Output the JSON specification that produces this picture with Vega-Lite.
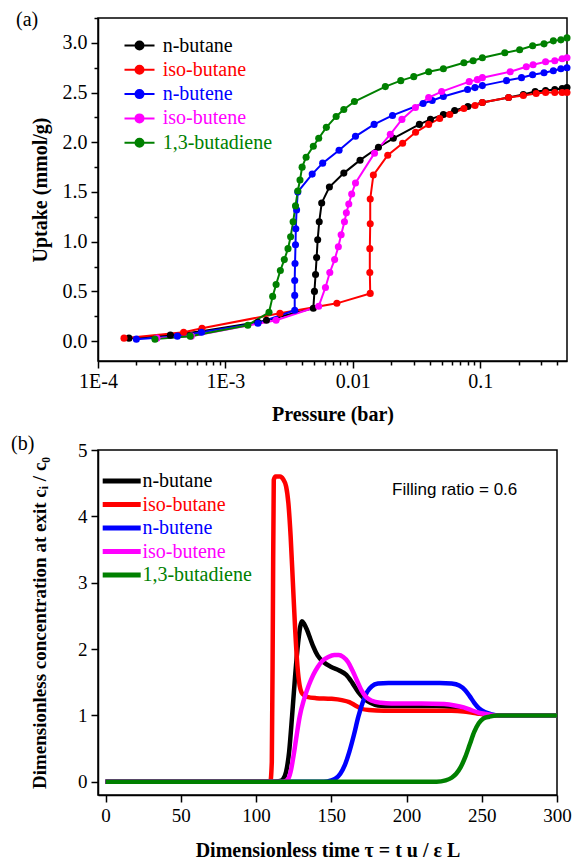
{
  "$schema": "https://vega.github.io/schema/vega-lite/v6.json",
  "padding": {"left": 10, "top": 7, "right": 0, "bottom": 0},
  "spacing": 8,
  "resolve": {"legend": {"color": "independent"}},
  "config": {
    "view": {"stroke": "black", "strokeWidth": 1.5},
    "font": "Liberation Serif",
    "axis": {"grid": false, "domainColor": "black", "domainWidth": 1.5, "tickColor": "black", "tickWidth": 1.5, "labelColor": "black", "titleColor": "black", "labelFont": "Liberation Serif", "titleFont": "Liberation Serif", "titleFontWeight": "bold", "labelOverlap": false, "labelFlush": false},
    "legend": {"labelFont": "Liberation Serif"}
  },
  "vconcat": [
    {
      "width": 469,
      "height": 343,
      "title": {"text": "(a)", "orient": "top", "anchor": "start", "frame": "group", "baseline": "middle", "offset": -32, "dx": -82, "font": "Liberation Serif", "fontSize": 20, "fontWeight": "normal", "color": "black"},
      "data": {"values": [
        {"s":"n-butane","P":0.000175,"q":0.03},{"s":"n-butane","P":0.00037,"q":0.06},{"s":"n-butane","P":0.00065,"q":0.10},{"s":"n-butane","P":0.0018,"q":0.19},{"s":"n-butane","P":0.0021,"q":0.21},{"s":"n-butane","P":0.0049,"q":0.33},{"s":"n-butane","P":0.005,"q":0.50},{"s":"n-butane","P":0.0051,"q":0.67},{"s":"n-butane","P":0.0052,"q":0.84},{"s":"n-butane","P":0.0053,"q":1.02},{"s":"n-butane","P":0.00545,"q":1.20},{"s":"n-butane","P":0.0057,"q":1.39},{"s":"n-butane","P":0.00655,"q":1.55},{"s":"n-butane","P":0.0085,"q":1.69},{"s":"n-butane","P":0.0114,"q":1.82},{"s":"n-butane","P":0.0159,"q":1.95},{"s":"n-butane","P":0.0208,"q":2.04},{"s":"n-butane","P":0.0333,"q":2.18},{"s":"n-butane","P":0.0407,"q":2.23},{"s":"n-butane","P":0.0514,"q":2.28},{"s":"n-butane","P":0.063,"q":2.32},{"s":"n-butane","P":0.08,"q":2.36},{"s":"n-butane","P":0.104,"q":2.40},{"s":"n-butane","P":0.167,"q":2.45},{"s":"n-butane","P":0.218,"q":2.48},{"s":"n-butane","P":0.27,"q":2.51},{"s":"n-butane","P":0.326,"q":2.52},{"s":"n-butane","P":0.385,"q":2.53},{"s":"n-butane","P":0.44,"q":2.54},{"s":"n-butane","P":0.48,"q":2.55},
        {"s":"iso-butane","P":0.00016,"q":0.03},{"s":"iso-butane","P":0.00047,"q":0.09},{"s":"iso-butane","P":0.000655,"q":0.13},{"s":"iso-butane","P":0.00268,"q":0.28},{"s":"iso-butane","P":0.0075,"q":0.38},{"s":"iso-butane","P":0.0137,"q":0.48},{"s":"iso-butane","P":0.0136,"q":0.69},{"s":"iso-butane","P":0.0136,"q":0.93},{"s":"iso-butane","P":0.0137,"q":1.18},{"s":"iso-butane","P":0.0137,"q":1.43},{"s":"iso-butane","P":0.0145,"q":1.67},{"s":"iso-butane","P":0.0188,"q":1.87},{"s":"iso-butane","P":0.0246,"q":1.99},{"s":"iso-butane","P":0.0311,"q":2.10},{"s":"iso-butane","P":0.0394,"q":2.18},{"s":"iso-butane","P":0.0481,"q":2.24},{"s":"iso-butane","P":0.0577,"q":2.28},{"s":"iso-butane","P":0.0745,"q":2.34},{"s":"iso-butane","P":0.0911,"q":2.37},{"s":"iso-butane","P":0.104,"q":2.40},{"s":"iso-butane","P":0.167,"q":2.45},{"s":"iso-butane","P":0.218,"q":2.47},{"s":"iso-butane","P":0.275,"q":2.49},{"s":"iso-butane","P":0.326,"q":2.50},{"s":"iso-butane","P":0.385,"q":2.50},{"s":"iso-butane","P":0.44,"q":2.50},{"s":"iso-butane","P":0.48,"q":2.50},
        {"s":"n-butene","P":0.0002,"q":0.02},{"s":"n-butene","P":0.00042,"q":0.05},{"s":"n-butene","P":0.00065,"q":0.09},{"s":"n-butene","P":0.0018,"q":0.18},{"s":"n-butene","P":0.0035,"q":0.31},{"s":"n-butene","P":0.0035,"q":0.46},{"s":"n-butene","P":0.0035,"q":0.61},{"s":"n-butene","P":0.00352,"q":0.78},{"s":"n-butene","P":0.00355,"q":0.97},{"s":"n-butene","P":0.00357,"q":1.13},{"s":"n-butene","P":0.00362,"q":1.32},{"s":"n-butene","P":0.0037,"q":1.50},{"s":"n-butene","P":0.0048,"q":1.68},{"s":"n-butene","P":0.0058,"q":1.79},{"s":"n-butene","P":0.0078,"q":1.92},{"s":"n-butene","P":0.0105,"q":2.06},{"s":"n-butene","P":0.0147,"q":2.18},{"s":"n-butene","P":0.0205,"q":2.27},{"s":"n-butene","P":0.0356,"q":2.39},{"s":"n-butene","P":0.042,"q":2.42},{"s":"n-butene","P":0.0514,"q":2.46},{"s":"n-butene","P":0.0796,"q":2.53},{"s":"n-butene","P":0.091,"q":2.55},{"s":"n-butene","P":0.104,"q":2.57},{"s":"n-butene","P":0.161,"q":2.62},{"s":"n-butene","P":0.211,"q":2.65},{"s":"n-butene","P":0.258,"q":2.68},{"s":"n-butene","P":0.317,"q":2.70},{"s":"n-butene","P":0.375,"q":2.72},{"s":"n-butene","P":0.43,"q":2.74},{"s":"n-butene","P":0.48,"q":2.75},
        {"s":"iso-butene","P":0.00029,"q":0.03},{"s":"iso-butene","P":0.00054,"q":0.05},{"s":"iso-butene","P":0.0025,"q":0.21},{"s":"iso-butene","P":0.0054,"q":0.35},{"s":"iso-butene","P":0.0061,"q":0.54},{"s":"iso-butene","P":0.0066,"q":0.69},{"s":"iso-butene","P":0.0072,"q":0.82},{"s":"iso-butene","P":0.0077,"q":0.95},{"s":"iso-butene","P":0.0081,"q":1.07},{"s":"iso-butene","P":0.0086,"q":1.20},{"s":"iso-butene","P":0.0089,"q":1.29},{"s":"iso-butene","P":0.0093,"q":1.38},{"s":"iso-butene","P":0.0098,"q":1.48},{"s":"iso-butene","P":0.0105,"q":1.59},{"s":"iso-butene","P":0.0148,"q":1.89},{"s":"iso-butene","P":0.0197,"q":2.08},{"s":"iso-butene","P":0.0243,"q":2.23},{"s":"iso-butene","P":0.031,"q":2.35},{"s":"iso-butene","P":0.0394,"q":2.45},{"s":"iso-butene","P":0.0498,"q":2.51},{"s":"iso-butene","P":0.082,"q":2.61},{"s":"iso-butene","P":0.095,"q":2.63},{"s":"iso-butene","P":0.104,"q":2.65},{"s":"iso-butene","P":0.172,"q":2.71},{"s":"iso-butene","P":0.23,"q":2.76},{"s":"iso-butene","P":0.26,"q":2.78},{"s":"iso-butene","P":0.326,"q":2.81},{"s":"iso-butene","P":0.385,"q":2.82},{"s":"iso-butene","P":0.44,"q":2.84},{"s":"iso-butene","P":0.48,"q":2.85},
        {"s":"1,3-butadiene","P":0.00028,"q":0.02},{"s":"1,3-butadiene","P":0.00053,"q":0.05},{"s":"1,3-butadiene","P":0.0015,"q":0.16},{"s":"1,3-butadiene","P":0.0022,"q":0.29},{"s":"1,3-butadiene","P":0.00235,"q":0.45},{"s":"1,3-butadiene","P":0.0025,"q":0.57},{"s":"1,3-butadiene","P":0.0027,"q":0.71},{"s":"1,3-butadiene","P":0.0029,"q":0.82},{"s":"1,3-butadiene","P":0.0031,"q":0.93},{"s":"1,3-butadiene","P":0.00325,"q":1.05},{"s":"1,3-butadiene","P":0.0034,"q":1.20},{"s":"1,3-butadiene","P":0.00355,"q":1.36},{"s":"1,3-butadiene","P":0.0037,"q":1.51},{"s":"1,3-butadiene","P":0.00385,"q":1.62},{"s":"1,3-butadiene","P":0.004,"q":1.75},{"s":"1,3-butadiene","P":0.0043,"q":1.85},{"s":"1,3-butadiene","P":0.0049,"q":1.96},{"s":"1,3-butadiene","P":0.0054,"q":2.04},{"s":"1,3-butadiene","P":0.0062,"q":2.15},{"s":"1,3-butadiene","P":0.0074,"q":2.26},{"s":"1,3-butadiene","P":0.0085,"q":2.33},{"s":"1,3-butadiene","P":0.0103,"q":2.41},{"s":"1,3-butadiene","P":0.018,"q":2.56},{"s":"1,3-butadiene","P":0.0238,"q":2.62},{"s":"1,3-butadiene","P":0.0301,"q":2.66},{"s":"1,3-butadiene","P":0.0394,"q":2.71},{"s":"1,3-butadiene","P":0.0514,"q":2.74},{"s":"1,3-butadiene","P":0.0745,"q":2.80},{"s":"1,3-butadiene","P":0.088,"q":2.82},{"s":"1,3-butadiene","P":0.104,"q":2.85},{"s":"1,3-butadiene","P":0.156,"q":2.90},{"s":"1,3-butadiene","P":0.204,"q":2.93},{"s":"1,3-butadiene","P":0.258,"q":2.97},{"s":"1,3-butadiene","P":0.317,"q":2.99},{"s":"1,3-butadiene","P":0.375,"q":3.02},{"s":"1,3-butadiene","P":0.43,"q":3.03},{"s":"1,3-butadiene","P":0.48,"q":3.05}
      ]},
      "mark": {"type": "line", "strokeWidth": 2, "point": {"filled": true, "size": 50, "opacity": 1}},
      "encoding": {
        "x": {"field": "P", "type": "quantitative",
          "scale": {"type": "log", "domain": [0.0001, 0.48], "nice": false},
          "axis": {"title": "Pressure (bar)",
            "values": [0.0001,0.0002,0.0003,0.0004,0.0005,0.0006,0.0007,0.0008,0.0009,0.001,0.002,0.003,0.004,0.005,0.006,0.007,0.008,0.009,0.01,0.02,0.03,0.04,0.05,0.06,0.07,0.08,0.09,0.1,0.2,0.3,0.4],
            "labelExpr": "abs(log(datum.value)/LN10 - round(log(datum.value)/LN10)) < 0.001 ? (datum.value < 0.0005 ? '1E-4' : datum.value < 0.005 ? '1E-3' : datum.value < 0.05 ? '0.01' : '0.1') : ''",
            "tickSize": {"condition": {"test": "abs(log(datum.value)/LN10 - round(log(datum.value)/LN10)) < 0.001", "value": 7}, "value": 4},
            "labelFont": "Liberation Serif", "labelFontSize": 20, "titleFontSize": 20, "labelPadding": 3, "titlePadding": 13, "minExtent": 30, "maxExtent": 30}},
        "y": {"field": "q", "type": "quantitative",
          "scale": {"domain": [-0.2, 3.25], "nice": false, "zero": false},
          "axis": {"title": "Uptake (mmol/g)",
            "values": [0,0.25,0.5,0.75,1,1.25,1.5,1.75,2,2.25,2.5,2.75,3,3.25],
            "labelExpr": "abs(datum.value*2 - round(datum.value*2)) < 0.001 ? format(datum.value, '.1f') : ''",
            "tickSize": {"condition": {"test": "abs(datum.value*2 - round(datum.value*2)) < 0.001", "value": 7}, "value": 4},
            "labelFont": "Liberation Serif", "labelFontSize": 20, "titleFontSize": 20, "labelPadding": 4, "titlePadding": 11, "minExtent": 37, "maxExtent": 37}},
        "color": {"field": "s", "type": "nominal",
          "scale": {"domain": ["n-butane","iso-butane","n-butene","iso-butene","1,3-butadiene"], "range": ["#000000","#ff0000","#0000ff","#ff00ff","#008000"]},
          "legend": {"orient": "none", "legendX": 31, "legendY": 17, "title": null, "padding": 0,
            "symbolType": "M-1.6,0H1.6M0.427,0A0.427,0.427 0 1,1 -0.427,0A0.427,0.427 0 1,1 0.427,0Z",
            "symbolSize": 352, "symbolStrokeWidth": 2,
            "labelFont": "Liberation Serif", "labelFontSize": 20, "labelOffset": 12.7, "rowPadding": 3.3, "labelLimit": 300,
            "encode": {
              "symbols": {"update": {
                "fill": {"signal": "datum.value === 'n-butane' ? '#000000' : datum.value === 'iso-butane' ? '#ff0000' : datum.value === 'n-butene' ? '#0000ff' : datum.value === 'iso-butene' ? '#ff00ff' : '#008000'"},
                "stroke": {"signal": "datum.value === 'n-butane' ? '#000000' : datum.value === 'iso-butane' ? '#ff0000' : datum.value === 'n-butene' ? '#0000ff' : datum.value === 'iso-butene' ? '#ff00ff' : '#008000'"},
                "fillOpacity": {"value": 1}}},
              "labels": {"update": {
                "font": {"value": "Liberation Serif"},
                "fill": {"signal": "datum.value === 'n-butane' ? '#000000' : datum.value === 'iso-butane' ? '#ff0000' : datum.value === 'n-butene' ? '#0000ff' : datum.value === 'iso-butene' ? '#ff00ff' : '#008000'"}}}
            }}},
        "order": {"value": null}
      }
    },
    {
      "width": 459,
      "height": 345,
      "title": {"text": "(b)", "orient": "top", "anchor": "start", "frame": "group", "baseline": "middle", "offset": -23, "dx": -87, "font": "Liberation Serif", "fontSize": 20, "fontWeight": "normal", "color": "black"},
      "layer": [
        {
          "data": {"values": [
            {"s":"n-butane","t":0,"c":0},{"s":"n-butane","t":50,"c":0},{"s":"n-butane","t":100,"c":0},{"s":"n-butane","t":112,"c":0},{"s":"n-butane","t":116,"c":0.01},{"s":"n-butane","t":118,"c":0.04},{"s":"n-butane","t":120,"c":0.15},{"s":"n-butane","t":122,"c":0.45},{"s":"n-butane","t":124,"c":1.0},{"s":"n-butane","t":126,"c":1.6},{"s":"n-butane","t":128,"c":2.1},{"s":"n-butane","t":129.5,"c":2.35},{"s":"n-butane","t":130.5,"c":2.42},{"s":"n-butane","t":132,"c":2.38},{"s":"n-butane","t":134,"c":2.28},{"s":"n-butane","t":136,"c":2.16},{"s":"n-butane","t":138,"c":2.04},{"s":"n-butane","t":141,"c":1.9},{"s":"n-butane","t":145,"c":1.8},{"s":"n-butane","t":150,"c":1.73},{"s":"n-butane","t":155,"c":1.68},{"s":"n-butane","t":160,"c":1.61},{"s":"n-butane","t":164,"c":1.49},{"s":"n-butane","t":168,"c":1.35},{"s":"n-butane","t":172,"c":1.25},{"s":"n-butane","t":176,"c":1.19},{"s":"n-butane","t":181,"c":1.15},{"s":"n-butane","t":190,"c":1.14},{"s":"n-butane","t":200,"c":1.14},{"s":"n-butane","t":220,"c":1.14},{"s":"n-butane","t":230,"c":1.13},{"s":"n-butane","t":236,"c":1.11},{"s":"n-butane","t":241,"c":1.07},{"s":"n-butane","t":246,"c":1.04},{"s":"n-butane","t":251,"c":1.02},{"s":"n-butane","t":257,"c":1.0},{"s":"n-butane","t":270,"c":1.0},{"s":"n-butane","t":300,"c":1.0},
            {"s":"iso-butane","t":0,"c":0},{"s":"iso-butane","t":50,"c":0},{"s":"iso-butane","t":100,"c":0},{"s":"iso-butane","t":109.5,"c":0},{"s":"iso-butane","t":110.5,"c":0.3},{"s":"iso-butane","t":111.2,"c":2.5},{"s":"iso-butane","t":111.8,"c":4.55},{"s":"iso-butane","t":113,"c":4.6},{"s":"iso-butane","t":116,"c":4.6},{"s":"iso-butane","t":118,"c":4.56},{"s":"iso-butane","t":120,"c":4.45},{"s":"iso-butane","t":121.5,"c":4.2},{"s":"iso-butane","t":123,"c":3.7},{"s":"iso-butane","t":124.5,"c":3.0},{"s":"iso-butane","t":126,"c":2.3},{"s":"iso-butane","t":127.5,"c":1.75},{"s":"iso-butane","t":129,"c":1.45},{"s":"iso-butane","t":131,"c":1.32},{"s":"iso-butane","t":134,"c":1.28},{"s":"iso-butane","t":140,"c":1.26},{"s":"iso-butane","t":150,"c":1.25},{"s":"iso-butane","t":157,"c":1.23},{"s":"iso-butane","t":162,"c":1.2},{"s":"iso-butane","t":166,"c":1.15},{"s":"iso-butane","t":170,"c":1.1},{"s":"iso-butane","t":175,"c":1.08},{"s":"iso-butane","t":185,"c":1.07},{"s":"iso-butane","t":200,"c":1.07},{"s":"iso-butane","t":230,"c":1.07},{"s":"iso-butane","t":238,"c":1.06},{"s":"iso-butane","t":244,"c":1.04},{"s":"iso-butane","t":250,"c":1.02},{"s":"iso-butane","t":256,"c":1.0},{"s":"iso-butane","t":270,"c":1.0},{"s":"iso-butane","t":300,"c":1.0},
            {"s":"n-butene","t":0,"c":0},{"s":"n-butene","t":100,"c":0},{"s":"n-butene","t":145,"c":0},{"s":"n-butene","t":150,"c":0.02},{"s":"n-butene","t":153,"c":0.05},{"s":"n-butene","t":156,"c":0.12},{"s":"n-butene","t":159,"c":0.25},{"s":"n-butene","t":162,"c":0.45},{"s":"n-butene","t":165,"c":0.7},{"s":"n-butene","t":168,"c":0.98},{"s":"n-butene","t":171,"c":1.2},{"s":"n-butene","t":174,"c":1.36},{"s":"n-butene","t":177,"c":1.44},{"s":"n-butene","t":181,"c":1.48},{"s":"n-butene","t":188,"c":1.49},{"s":"n-butene","t":200,"c":1.49},{"s":"n-butene","t":222,"c":1.49},{"s":"n-butene","t":230,"c":1.48},{"s":"n-butene","t":235,"c":1.45},{"s":"n-butene","t":239,"c":1.38},{"s":"n-butene","t":242,"c":1.29},{"s":"n-butene","t":245,"c":1.19},{"s":"n-butene","t":248,"c":1.11},{"s":"n-butene","t":252,"c":1.05},{"s":"n-butene","t":256,"c":1.02},{"s":"n-butene","t":262,"c":1.0},{"s":"n-butene","t":300,"c":1.0},
            {"s":"iso-butene","t":0,"c":0},{"s":"iso-butene","t":100,"c":0},{"s":"iso-butene","t":118,"c":0},{"s":"iso-butene","t":121,"c":0.03},{"s":"iso-butene","t":123,"c":0.15},{"s":"iso-butene","t":125,"c":0.4},{"s":"iso-butene","t":127,"c":0.7},{"s":"iso-butene","t":129,"c":0.98},{"s":"iso-butene","t":132,"c":1.25},{"s":"iso-butene","t":135,"c":1.45},{"s":"iso-butene","t":138,"c":1.61},{"s":"iso-butene","t":141,"c":1.73},{"s":"iso-butene","t":144,"c":1.82},{"s":"iso-butene","t":148,"c":1.88},{"s":"iso-butene","t":152,"c":1.91},{"s":"iso-butene","t":155,"c":1.91},{"s":"iso-butene","t":158,"c":1.88},{"s":"iso-butene","t":161,"c":1.81},{"s":"iso-butene","t":164,"c":1.68},{"s":"iso-butene","t":167,"c":1.53},{"s":"iso-butene","t":170,"c":1.38},{"s":"iso-butene","t":173,"c":1.28},{"s":"iso-butene","t":177,"c":1.22},{"s":"iso-butene","t":183,"c":1.19},{"s":"iso-butene","t":190,"c":1.18},{"s":"iso-butene","t":210,"c":1.18},{"s":"iso-butene","t":225,"c":1.17},{"s":"iso-butene","t":232,"c":1.15},{"s":"iso-butene","t":238,"c":1.12},{"s":"iso-butene","t":243,"c":1.08},{"s":"iso-butene","t":248,"c":1.04},{"s":"iso-butene","t":253,"c":1.02},{"s":"iso-butene","t":260,"c":1.0},{"s":"iso-butene","t":300,"c":1.0},
            {"s":"1,3-butadiene","t":0,"c":0},{"s":"1,3-butadiene","t":100,"c":0},{"s":"1,3-butadiene","t":200,"c":0},{"s":"1,3-butadiene","t":220,"c":0},{"s":"1,3-butadiene","t":226,"c":0.02},{"s":"1,3-butadiene","t":230,"c":0.06},{"s":"1,3-butadiene","t":233,"c":0.12},{"s":"1,3-butadiene","t":236,"c":0.22},{"s":"1,3-butadiene","t":239,"c":0.37},{"s":"1,3-butadiene","t":242,"c":0.56},{"s":"1,3-butadiene","t":245,"c":0.75},{"s":"1,3-butadiene","t":248,"c":0.88},{"s":"1,3-butadiene","t":251,"c":0.95},{"s":"1,3-butadiene","t":255,"c":0.98},{"s":"1,3-butadiene","t":260,"c":1.0},{"s":"1,3-butadiene","t":300,"c":1.0}
          ]},
          "mark": {"type": "line", "strokeWidth": 4.5, "interpolate": "monotone"},
          "encoding": {
            "x": {"field": "t", "type": "quantitative",
              "scale": {"domain": [-5, 300], "nice": false, "zero": false},
              "axis": {"title": "Dimensionless time τ = t u / ε L",
                "values": [0,25,50,75,100,125,150,175,200,225,250,275,300],
                "labelExpr": "datum.value % 50 == 0 ? format(datum.value, 'd') : ''",
                "tickSize": {"condition": {"test": "datum.value % 50 == 0", "value": 7}, "value": 4},
                "labelFont": "Liberation Serif", "labelFontSize": 19, "titleFontSize": 20, "labelPadding": 4, "titlePadding": 15, "minExtent": 30, "maxExtent": 30}},
            "y": {"field": "c", "type": "quantitative",
              "scale": {"domain": [-0.2, 5], "nice": false, "zero": false},
              "axis": {"title": "Dimensionless concentration at exit cᵢ / c₀",
                "values": [0,0.5,1,1.5,2,2.5,3,3.5,4,4.5,5],
                "labelExpr": "datum.value % 1 == 0 ? format(datum.value, 'd') : ''",
                "tickSize": {"condition": {"test": "datum.value % 1 == 0", "value": 7}, "value": 4},
                "labelFont": "Liberation Serif", "labelFontSize": 19, "titleFontSize": 19, "labelPadding": 4, "titlePadding": 29, "minExtent": 20, "maxExtent": 20}},
            "color": {"field": "s", "type": "nominal",
              "scale": {"domain": ["n-butane","iso-butane","n-butene","iso-butene","1,3-butadiene"], "range": ["#000000","#ff0000","#0000ff","#ff00ff","#008000"]},
              "legend": {"orient": "none", "legendX": 11.7, "legendY": 19, "title": null, "padding": 0,
                "symbolType": "M-2,0H2", "symbolSize": 361, "symbolStrokeWidth": 5,
                "labelFont": "Liberation Serif", "labelFontSize": 20, "labelOffset": 8.7, "rowPadding": 1.5, "labelLimit": 300,
                "encode": {"labels": {"update": {
                  "font": {"value": "Liberation Serif"},
                  "fill": {"signal": "datum.value === 'n-butane' ? '#000000' : datum.value === 'iso-butane' ? '#ff0000' : datum.value === 'n-butene' ? '#0000ff' : datum.value === 'iso-butene' ? '#ff00ff' : '#008000'"}}}}}},
            "order": {"value": null}
          }
        },
        {
          "data": {"values": [{"t": 232, "c": 4.39, "label": "Filling ratio = 0.6"}]},
          "mark": {"type": "text", "font": "Liberation Sans", "fontSize": 17, "align": "center", "baseline": "middle", "color": "black"},
          "encoding": {
            "x": {"field": "t", "type": "quantitative"},
            "y": {"field": "c", "type": "quantitative"},
            "text": {"field": "label"}
          }
        }
      ]
    }
  ]
}
